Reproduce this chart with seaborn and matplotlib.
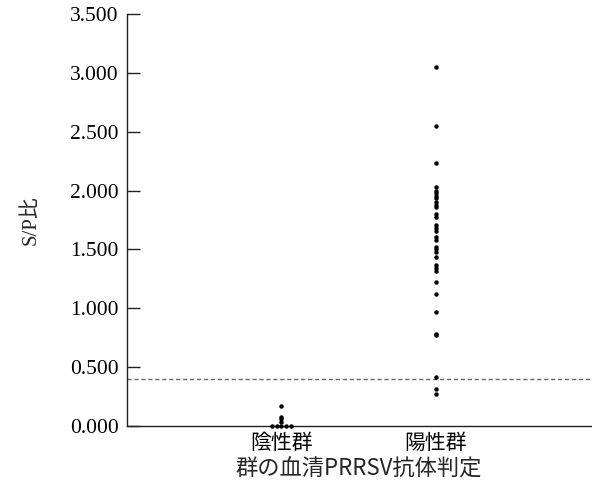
import pandas as pd
import matplotlib
matplotlib.use("Agg")
import matplotlib.pyplot as plt
import seaborn as sns

# S/P ratio values
groups = ["陰性群", "陽性群"]
neg_zero = [0.0, 0.0, 0.0, 0.0, 0.0]
neg_values = [0.03, 0.057, 0.08, 0.167]
pos_values = [3.05, 2.55, 2.23, 2.033, 2.0, 1.977, 1.957, 1.937, 1.905, 1.877,
              1.86, 1.80, 1.773, 1.708, 1.68, 1.657, 1.603, 1.58, 1.523, 1.501,
              1.481, 1.438, 1.368, 1.345, 1.319, 1.226, 1.119, 0.966, 0.779,
              0.77, 0.419, 0.314, 0.269]
cutoff = 0.4
yticks = [0.0, 0.5, 1.0, 1.5, 2.0, 2.5, 3.0, 3.5]

zeros = pd.DataFrame({"group": groups[0], "sp": neg_zero})
stack = pd.concat([
    pd.DataFrame({"group": groups[0], "sp": neg_values}),
    pd.DataFrame({"group": groups[1], "sp": pos_values}),
])

sns.set_style("white")
# serif for numbers, CJK fallback for 比
plt.rcParams["font.family"] = ["Liberation Serif", "Noto Sans CJK JP"]
sans_jp = ["Noto Sans CJK JP", "DejaVu Sans"]

fig = plt.figure(figsize=(5.92, 5.0), dpi=100)
ax = fig.add_axes([0.2145, 0.148, 0.783, 0.824])

sns.swarmplot(data=zeros, x="group", y="sp", order=groups, color="black",
              size=3.2, ax=ax, clip_on=False)
sns.stripplot(data=stack, x="group", y="sp", order=groups, color="black",
              size=3.2, jitter=False, ax=ax, clip_on=False)

ax.axhline(cutoff, color="#666666", linestyle=(0, (3, 2)), linewidth=1)

ax.set_xlim(-1, 2)
ax.set_ylim(0, 3.5)
ax.set_yticks(yticks)
ax.set_yticklabels([f"{v:.3f}" for v in yticks], fontsize=15.5)
ax.set_xticks([0, 1])
ax.set_xticklabels(groups, fontsize=15, family=sans_jp)
ax.tick_params(axis="y", left=True, direction="in", length=9, width=1, pad=6,
               colors="#222222", labelcolor="black")
ax.tick_params(axis="x", bottom=False, length=0, pad=4, labelcolor="black")

ax.set_xlabel("群の血清PRRSV抗体判定", fontsize=16, labelpad=3, family=sans_jp)
ax.set_ylabel("S/P比", fontsize=15, labelpad=21)

for side in ["top", "right"]:
    ax.spines[side].set_visible(False)
for side in ["left", "bottom"]:
    ax.spines[side].set_color("#222222")
    ax.spines[side].set_linewidth(1)

fig.savefig("out.png", dpi=100)
